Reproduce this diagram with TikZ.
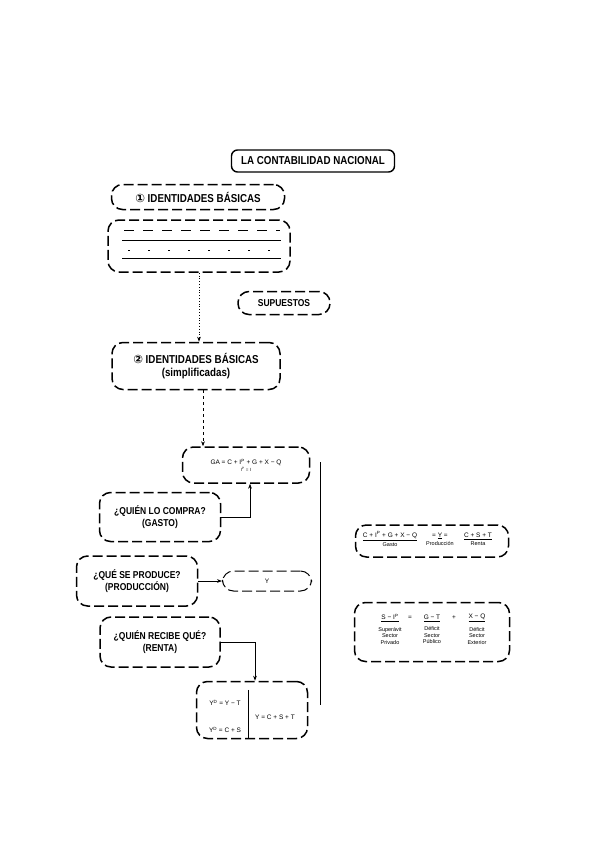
\documentclass[tikz,border=0pt]{standalone}
\usepackage{fontspec}
\setmainfont{Liberation Sans}
\newfontfamily\narrow{Liberation Sans}[FakeStretch=0.85]
\newfontfamily\dejavu{DejaVu Sans}
\usetikzlibrary{arrows.meta}

\tikzset{
	titbox/.style={draw, line width=1.4pt, rounded corners=6pt, inner sep=2pt,
		font=\narrow\bfseries\fontsize{11.5}{13}\selectfont},
	dbox/.style={draw, line width=1.5pt, dash pattern=on 10pt off 4pt, rounded corners=11pt,
		align=center, inner sep=2pt, font=\narrow\bfseries\fontsize{10}{11.5}\selectfont},
	eqt/.style={inner sep=1pt, font=\fontsize{6.5}{7.5}\selectfont},
	lab/.style={inner sep=1pt, align=center, font=\fontsize{5.5}{6.5}\selectfont},
	link/.style={line width=0.8pt},
}

\begin{document}
\begin{tikzpicture}[x=1pt, y=-1pt]
	\useasboundingbox (0,0) rectangle (599,848);
	
	\node [titbox, minimum width=163, minimum height=22] at (313,161) (tit) {LA CONTABILIDAD NACIONAL};
	\node [dbox, minimum width=173, minimum height=25, font=\narrow\bfseries\fontsize{11.5}{13}\selectfont] at (198,197) (id1) {{\dejavu\bfseries ①} IDENTIDADES BÁSICAS};
	
	% blank identities
	\node [dbox, minimum width=182, minimum height=52] at (199,246) (blank) {};
	\draw [link, dash pattern=on 10pt off 9pt] (124,230) -- (280,230);
	\draw [link] (122,240) -- (281,240);
	\draw [link, dash pattern=on 2pt off 18pt] (128,250) -- (280,250);
	\draw [link] (122,258) -- (281,258);
	
	\node [dbox, minimum width=92, minimum height=23] at (284,303) (sup) {SUPUESTOS};
	\node [dbox, minimum width=168, minimum height=47, font=\narrow\bfseries\fontsize{11.5}{13}\selectfont] at (196,366) (id2) {{\dejavu\bfseries ②} IDENTIDADES BÁSICAS\\(simplificadas)};
	\draw [link, dotted, -{Stealth[length=5pt]}] (blank.south) -- (blank.south |- id2.north);
	
	\node [dbox, minimum width=127, minimum height=36, eqt] at (246,465) (eq) {GA = C + I\textsuperscript{P} + G + X − Q\\[-1pt]{\fontsize{4.5}{5}\selectfont I\textsuperscript{P} = I}};
	\draw [link, dashed, -{Stealth[length=5pt]}] ([xshift=7pt]id2.south) -- ([xshift=7pt]id2.south |- eq.north);
	
	\coordinate (vt) at (320,462);
	\coordinate (vb) at (320,705);
	\draw [link] (vt) -- (vb);
	
	\node [dbox, minimum width=121, minimum height=49] at (160,517) (gas) {¿QUIÉN LO COMPRA?\\(GASTO)};
	\draw [link, -{Stealth[length=5pt]}] (gas.east) -| ([xshift=4pt]eq.south);
	
	\node [dbox, minimum width=121, minimum height=50] at (137,581) (pro) {¿QUÉ SE PRODUCE?\\(PRODUCCIÓN)};
	\node [dbox, minimum width=89, minimum height=20, eqt, line width=1pt] at (267,581) (y) {Y};
	\draw [link, -{Stealth[length=5pt]}] (pro.east) -- (y.west);
	
	\node [dbox, minimum width=120, minimum height=50] at (160,642) (ren) {¿QUIÉN RECIBE QUÉ?\\(RENTA)};
	
	% disposable income
	\node [dbox, minimum width=111, minimum height=57] at (252,710) (yd) {};
	\draw [link, -{Stealth[length=5pt]}] (ren.east) -| ([xshift=3pt]yd.north);
	\draw [link] ([shift={(-4pt,-9pt)}]yd.north) -- ([xshift=-4pt]yd.south);
	\node [eqt] at (225,703) (yd1) {Y\textsuperscript{D} = Y − T};
	\node [eqt] at (225,730) (yd2) {Y\textsuperscript{D} = C + S};
	\node [eqt] at (275,717) (yd3) {Y = C + S + T};
	
	% right side
	\node [dbox, minimum width=153, minimum height=32] at (432,541) (tot) {};
	\node [eqt] at (390,536) (ga) {\underline{C + I\textsuperscript{P} + G + X − Q}};
	\node [eqt] at (440,536) (yy) {= \underline{Y} =};
	\node [eqt] at (478,536) (re) {\underline{C + S + T}};
	\node [lab, anchor=north] at (ga.south) {Gasto};
	\node [lab, anchor=north] at (yy.south) {Producción};
	\node [lab, anchor=north] at (re.south) {Renta};
	
	\node [dbox, minimum width=155, minimum height=59] at (432,632) (bal) {};
	\node [eqt] at (390,618) (sp) {\underline{S − I\textsuperscript{P}}};
	\node [eqt] at (410,618) {=};
	\node [eqt] at (432,618) (gt) {\underline{G − T}};
	\node [eqt] at (454,618) {+};
	\node [eqt] at (477,618) (xq) {\underline{X − Q}};
	\node [lab, anchor=north] at ([yshift=-3pt]sp.south) {Superávit\\Sector\\Privado};
	\node [lab, anchor=north] at ([yshift=-3pt]gt.south) {Déficit\\Sector\\Público};
	\node [lab, anchor=north] at ([yshift=-3pt]xq.south) {Déficit\\Sector\\Exterior};
\end{tikzpicture}
\end{document}
